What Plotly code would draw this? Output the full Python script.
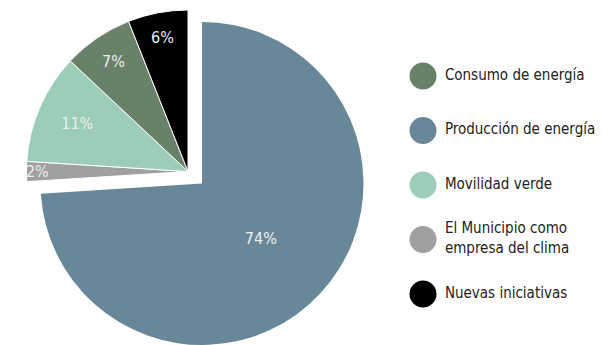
import plotly.graph_objects as go

# Share of the climate budget by programme area
slice_labels = [
    "Producción de energía",
    "El Municipio como empresa del clima",
    "Movilidad verde",
    "Consumo de energía",
    "Nuevas iniciativas",
]
slice_values = [74, 2, 11, 7, 6]
slice_colors = ["#688798", "#a0a0a0", "#9bcdb8", "#698168", "#000000"]

# Legend entries, in the order they are listed beside the pie
legend_labels = [
    "Consumo de energía",
    "Producción de energía",
    "Movilidad verde",
    "El Municipio como<br>empresa del clima",
    "Nuevas iniciativas",
]
legend_colors = ["#698168", "#688798", "#9bcdb8", "#a0a0a0", "#000000"]

FONT = "DejaVu Sans Condensed, Liberation Sans Narrow, sans-serif"
W, H = 602, 345
R = 161.5                 # pie radius in px
BIG_C = (202, H - R)      # centre of the main slice
SHIFT = (-14, -12)        # offset of the detached group of small slices
TRANSPARENT = "rgba(0,0,0,0)"
LABEL_COLOR = "#eceff0"


def domain(cx, cy):
    half_w = R * 1.05
    return dict(
        x=[(cx - half_w) / W, (cx + half_w) / W],
        y=[(H - cy - R) / H, (H - cy + R) / H],
    )


big_only = [i == 0 for i in range(len(slice_values))]

fig = go.Figure()

# Main slice (the others are drawn by the detached trace)
fig.add_trace(go.Pie(
    labels=slice_labels,
    values=slice_values,
    sort=False,
    direction="clockwise",
    rotation=0,
    domain=domain(*BIG_C),
    marker=dict(
        colors=[c if b else TRANSPARENT for c, b in zip(slice_colors, big_only)],
        line=dict(width=0),
    ),
    texttemplate=["%{percent}" if b else "" for b in big_only],
    textposition="inside",
    insidetextorientation="horizontal",
    textfont=dict(family=FONT, size=16, color=LABEL_COLOR),
    hoverinfo="label+percent",
    showlegend=False,
))

# Detached group of the smaller slices
fig.add_trace(go.Pie(
    labels=slice_labels,
    values=slice_values,
    sort=False,
    direction="clockwise",
    rotation=0,
    domain=domain(BIG_C[0] + SHIFT[0], BIG_C[1] + SHIFT[1]),
    marker=dict(
        colors=[TRANSPARENT if b else c for c, b in zip(slice_colors, big_only)],
        line=dict(
            color=[TRANSPARENT if b else "white" for b in big_only],
            width=[0 if b else 1 for b in big_only],
        ),
    ),
    texttemplate=["" if b else "%{percent}" for b in big_only],
    textposition="inside",
    insidetextorientation="horizontal",
    textfont=dict(family=FONT, size=16, color=LABEL_COLOR),
    hoverinfo="label+percent",
    showlegend=False,
))

# Legend: round swatches ...
fig.add_trace(go.Scatter(
    x=[0] * len(legend_labels),
    y=list(range(len(legend_labels))),
    mode="markers",
    marker=dict(size=27, color=legend_colors, line=dict(width=0)),
    hoverinfo="skip",
    showlegend=False,
    cliponaxis=False,
))
# ... and their labels
fig.add_trace(go.Scatter(
    x=[0.69] * len(legend_labels),
    y=list(range(len(legend_labels))),
    mode="text",
    text=legend_labels,
    textposition="middle right",
    textfont=dict(family=FONT, size=15, color="#222222"),
    hoverinfo="skip",
    showlegend=False,
    cliponaxis=False,
))

fig.update_layout(
    width=W,
    height=H,
    margin=dict(l=0, r=0, t=0, b=0),
    paper_bgcolor="white",
    plot_bgcolor="rgba(0,0,0,0)",
    showlegend=False,
    uniformtext=dict(minsize=16, mode="show"),
    xaxis=dict(domain=[0.65, 1.0], range=[-1, 5.646], visible=False, fixedrange=True),
    yaxis=dict(range=[4.936, -1.394], visible=False, fixedrange=True),
)

fig.write_html("out.html")
